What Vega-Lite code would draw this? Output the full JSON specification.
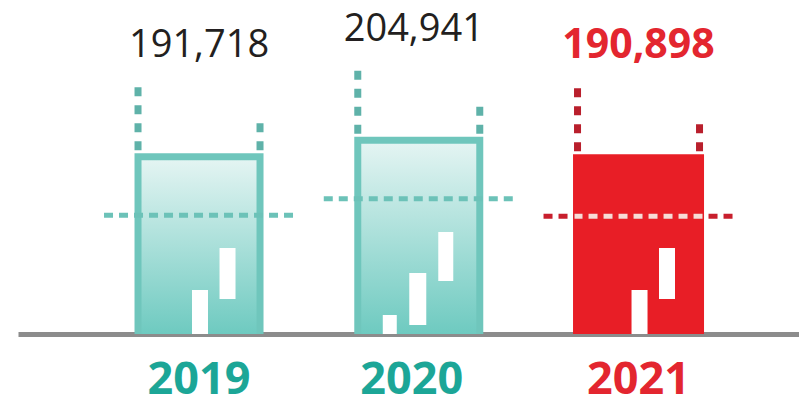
{
  "$schema": "https://vega.github.io/schema/vega-lite/v6.json",
  "width": 799,
  "height": 334,
  "autosize": {"type": "none"},
  "padding": {"left": 0, "top": 0, "right": 0, "bottom": 73},
  "background": "white",
  "config": {"view": {"stroke": null}},
  "data": {"values": [
    {"year": "2019", "value": 191718},
    {"year": "2020", "value": 204941},
    {"year": "2021", "value": 190898}
  ]},
  "encoding": {
    "x": {
      "field": "year", "type": "ordinal", "title": null,
      "scale": {"range": [18, 799], "paddingInner": 0.4, "paddingOuter": 0.477, "align": 0.549},
      "axis": {
        "title": null, "domainColor": "#8c8c8c", "domainWidth": 5, "domainCap": "butt",
        "ticks": false, "tickSize": 0, "labelAngle": 0,
        "labelFont": "Open Sans", "labelFontWeight": "bold", "labelFontSize": 45,
        "labelBaseline": "alphabetic", "labelPadding": 59,
        "labelOffset": {"condition": {"test": "datum.value === '2020'", "value": -7}, "value": 0},
        "labelColor": {"condition": {"test": "datum.value === '2021'", "value": "#e3262f"}, "value": "#1ca697"}
      }
    }
  },
  "layer": [
    {
      "transform": [{"filter": "datum.year !== '2021'"}],
      "mark": {"type": "bar", "width": 129, "color": "#6fc6bc"},
      "encoding": {
        "y": {"field": "value", "type": "quantitative", "scale": {"domain": [47700, 313800], "zero": false, "nice": false}, "axis": null},
        "y2": {"datum": 47700}
      }
    },
    {
      "transform": [{"filter": "datum.year !== '2021'"}],
      "mark": {"type": "bar", "width": 115, "yOffset": 7, "stroke": null,
        "fill": {"gradient": "linear", "x1": 0, "y1": 0, "x2": 0, "y2": 1,
          "stops": [{"offset": 0, "color": "#e3f4f2"}, {"offset": 1, "color": "#6ecac0"}]}},
      "encoding": {
        "y": {"field": "value", "type": "quantitative"},
        "y2": {"datum": 47700}
      }
    },
    {
      "transform": [{"filter": "datum.year === '2021'"}],
      "mark": {"type": "bar", "width": 131, "color": "#e81e26"},
      "encoding": {
        "y": {"field": "value", "type": "quantitative"},
        "y2": {"datum": 47700}
      }
    },
    {
      "transform": [{"filter": "datum.year !== '2020'"}],
      "mark": {"type": "bar", "width": 16, "xOffset": 1, "y2Offset": -44, "color": "white"},
      "encoding": {"y": {"datum": 47700}, "y2": {"datum": 47700}}
    },
    {
      "transform": [{"filter": "datum.year !== '2020'"}],
      "mark": {"type": "bar", "width": 16, "xOffset": 28.5, "yOffset": -35, "y2Offset": -86, "color": "white"},
      "encoding": {"y": {"datum": 47700}, "y2": {"datum": 47700}}
    },
    {
      "transform": [{"filter": "datum.year === '2020'"}],
      "mark": {"type": "bar", "width": 14, "xOffset": -29, "y2Offset": -19, "color": "white"},
      "encoding": {"y": {"datum": 47700}, "y2": {"datum": 47700}}
    },
    {
      "transform": [{"filter": "datum.year === '2020'"}],
      "mark": {"type": "bar", "width": 17, "xOffset": -1, "yOffset": -9, "y2Offset": -61, "color": "white"},
      "encoding": {"y": {"datum": 47700}, "y2": {"datum": 47700}}
    },
    {
      "transform": [{"filter": "datum.year === '2020'"}],
      "mark": {"type": "bar", "width": 15, "xOffset": 27, "yOffset": -53, "y2Offset": -102, "color": "white"},
      "encoding": {"y": {"datum": 47700}, "y2": {"datum": 47700}}
    },
    {
      "transform": [{"filter": "datum.year !== '2021'"}],
      "mark": {"type": "rule", "strokeWidth": 5, "strokeDash": [9, 6], "color": "#6cc2b8", "xOffset": -95, "x2Offset": 95, "yOffset": 62},
      "encoding": {"x2": {"field": "year"}, "y": {"field": "value", "type": "quantitative"}}
    },
    {
      "transform": [{"filter": "datum.year === '2021'"}],
      "mark": {"type": "rule", "strokeWidth": 5, "strokeDash": [9, 6], "color": "#c81f2d", "xOffset": -95, "x2Offset": 95, "yOffset": 62},
      "encoding": {"x2": {"field": "year"}, "y": {"field": "value", "type": "quantitative"}}
    },
    {
      "transform": [{"filter": "datum.year === '2021'"}],
      "mark": {"type": "rule", "strokeWidth": 5, "strokeDash": [9, 6], "strokeDashOffset": 1, "color": "#f8dcd6", "xOffset": -64, "x2Offset": 64, "yOffset": 62},
      "encoding": {"x2": {"field": "year"}, "y": {"field": "value", "type": "quantitative"}}
    },
    {
      "mark": {"type": "rule", "strokeWidth": 7, "strokeDash": [9, 9], "xOffset": -61, "yOffset": -3, "y2Offset": -66},
      "encoding": {
        "y": {"field": "value", "type": "quantitative"},
        "y2": {"field": "value"},
        "color": {"condition": {"test": "datum.year === '2021'", "value": "#b91f2c"}, "value": "#5fb2a9"}
      }
    },
    {
      "mark": {"type": "rule", "strokeWidth": 7, "strokeDash": [9, 9], "xOffset": 61, "yOffset": -3, "y2Offset": -30},
      "encoding": {
        "y": {"field": "value", "type": "quantitative"},
        "y2": {"field": "value"},
        "color": {"condition": {"test": "datum.year === '2021'", "value": "#b91f2c"}, "value": "#5fb2a9"}
      }
    },
    {
      "transform": [{"filter": "datum.year === '2019'"}],
      "mark": {"type": "text", "font": "Open Sans", "fontWeight": 500, "fontSize": 38, "baseline": "alphabetic", "align": "center", "yOffset": -96, "color": "#231f20"},
      "encoding": {
        "y": {"field": "value", "type": "quantitative"},
        "text": {"field": "value", "type": "quantitative", "format": ","}
      }
    },
    {
      "transform": [{"filter": "datum.year === '2020'"}],
      "mark": {"type": "text", "font": "Open Sans", "fontWeight": 500, "fontSize": 38, "baseline": "alphabetic", "align": "center", "xOffset": -5, "yOffset": -96, "color": "#231f20"},
      "encoding": {
        "y": {"field": "value", "type": "quantitative"},
        "text": {"field": "value", "type": "quantitative", "format": ","}
      }
    },
    {
      "transform": [{"filter": "datum.year === '2021'"}],
      "mark": {"type": "text", "font": "Open Sans", "fontWeight": "bold", "fontSize": 41, "baseline": "alphabetic", "align": "center", "yOffset": -96, "color": "#e3262f"},
      "encoding": {
        "y": {"field": "value", "type": "quantitative"},
        "text": {"field": "value", "type": "quantitative", "format": ","}
      }
    }
  ]
}
